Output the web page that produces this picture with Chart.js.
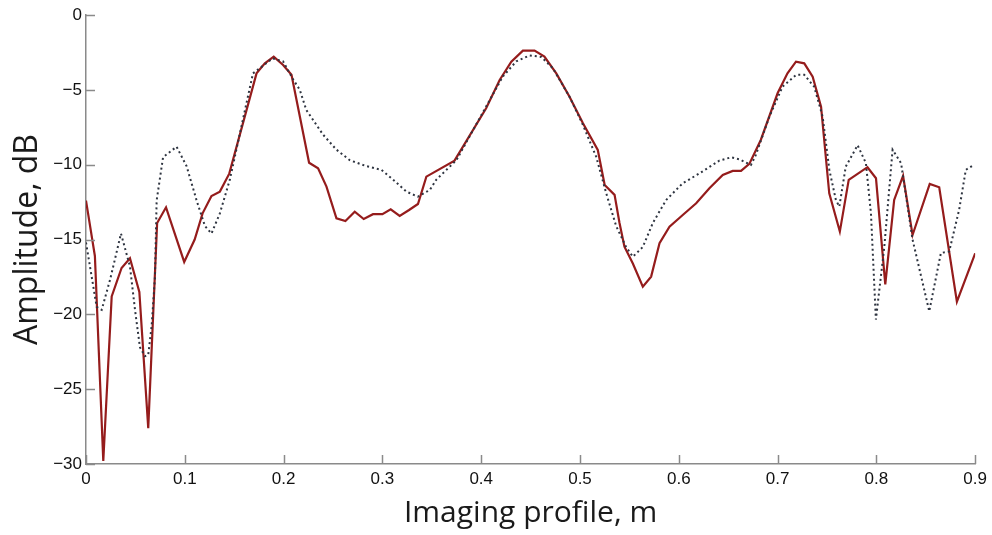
<!DOCTYPE html>
<html>
<head>
<meta charset="utf-8">
<script src="https://cdn.jsdelivr.net/npm/chart.js@4.4.0/dist/chart.umd.min.js"></script>
<style>
  html, body { margin: 0; padding: 0; background: #fff; }
  #wrap { width: 992px; height: 535px; position: relative; }
</style>
</head>
<body>
<div id="wrap"><canvas id="profile-chart"></canvas></div>
<script>
// Amplitude profiles along the imaging line (metres / dB)

const solidX = [0.000, 0.009, 0.0175, 0.026, 0.036, 0.0445, 0.054, 0.063, 0.072, 0.081,
    0.0994, 0.110, 0.118, 0.127, 0.1355, 0.145, 0.1726, 0.181, 0.190, 0.1995,
    0.208, 0.2258, 0.2349, 0.2434, 0.2535, 0.2626, 0.272, 0.2811, 0.2905, 0.300,
    0.3084, 0.3175, 0.327, 0.336, 0.3445, 0.373, 0.405, 0.4187, 0.4305, 0.4422,
    0.454, 0.464, 0.476, 0.4894, 0.503, 0.518, 0.525, 0.535, 0.540, 0.545,
    0.5535, 0.5636, 0.572, 0.5805, 0.5906, 0.604, 0.6176, 0.631, 0.6445, 0.6546,
    0.663, 0.6714, 0.683, 0.700, 0.710, 0.7186, 0.727, 0.7355, 0.744, 0.7523,
    0.763, 0.772, 0.791, 0.7996, 0.809, 0.818, 0.827, 0.8366, 0.854, 0.8636,
    0.8815, 0.900];
const solidDb = [-12.4, -16.1, -29.8, -18.8, -16.9, -16.25, -18.5, -27.6, -13.9, -12.85,
    -16.5, -15.0, -13.25, -12.1, -11.8, -10.6, -3.9, -3.23, -2.78, -3.34,
    -4.0, -9.87, -10.24, -11.47, -13.58, -13.76, -13.14, -13.63, -13.31, -13.31,
    -12.98, -13.43, -13.03, -12.63, -10.8, -9.73, -6.23, -4.34, -3.12, -2.38,
    -2.38, -2.78, -3.9, -5.46, -7.24, -9.02, -11.36, -12.02, -13.9, -15.48,
    -16.6, -18.15, -17.48, -15.25, -14.14, -13.36, -12.58, -11.58, -10.69, -10.42,
    -10.42, -9.95, -8.35, -5.23, -3.9, -3.12, -3.23, -4.12, -6.12, -11.91,
    -14.47, -11.02, -10.17, -10.91, -18.0, -12.36, -10.75, -14.7, -11.29, -11.51,
    -19.15, -15.92];

const dotX = [0.000, 0.0108, 0.0159, 0.0243, 0.029, 0.0354, 0.0445, 0.0496, 0.0546, 0.0597,
    0.063, 0.0664, 0.0698, 0.0715, 0.078, 0.0917, 0.1018, 0.112, 0.1204, 0.127,
    0.1355, 0.1456, 0.169, 0.189, 0.1995, 0.2096, 0.2164, 0.223, 0.240, 0.2535,
    0.267, 0.2838, 0.299, 0.3108, 0.3243, 0.336, 0.348, 0.3546, 0.3749, 0.3917,
    0.4085, 0.422, 0.4355, 0.449, 0.4608, 0.4726, 0.4894, 0.503, 0.5164, 0.5265,
    0.5366, 0.5467, 0.5535, 0.5636, 0.5737, 0.5872, 0.604, 0.621, 0.641, 0.653,
    0.6613, 0.673, 0.678, 0.6917, 0.705, 0.7187, 0.727, 0.737, 0.7456, 0.7524,
    0.759, 0.7625, 0.769, 0.781, 0.7894, 0.7945, 0.7995, 0.808, 0.8164, 0.825,
    0.8366, 0.8535, 0.8653, 0.8737, 0.8838, 0.8905, 0.899];
const dotDb = [-15.2, -19.5, -19.7, -17.7, -16.4, -14.6, -16.8, -19.7, -22.2, -22.8,
    -22.7, -20.8, -17.5, -12.4, -9.5, -8.8, -10.1, -12.4, -14.1, -14.6,
    -13.25, -11.0, -3.9, -2.9, -3.1, -4.3, -5.0, -6.35, -8.0, -9.0,
    -9.7, -10.1, -10.35, -11.0, -11.8, -12.14, -11.69, -11.0, -9.7, -7.7,
    -5.7, -4.1, -3.1, -2.7, -2.8, -3.56, -5.46, -7.35, -9.47, -11.9,
    -14.1, -15.5, -16.15, -15.5, -13.9, -12.36, -11.24, -10.58, -9.73, -9.51,
    -9.64, -10.02, -9.35, -6.79, -4.79, -4.0, -4.0, -4.79, -6.79, -10.35,
    -12.36, -12.8, -10.13, -8.7, -9.9, -13.25, -20.35, -15.5, -9.0, -9.9,
    -15.0, -19.8, -15.9, -15.8, -13.0, -10.35, -10.0];

const xTicks = [0, 0.1, 0.2, 0.3, 0.4, 0.5, 0.6, 0.7, 0.8, 0.9];
const yTicks = [0, -5, -10, -15, -20, -25, -30];

const axisColor = '#8a8a8a';

// small tick marks pointing into the plot
const inwardTicks = {
    id: 'inwardTicks',
    afterDraw(chart) {
        const ctx = chart.ctx, area = chart.chartArea;
        const xs = chart.scales.x, ys = chart.scales.y;
        ctx.save();
        ctx.strokeStyle = axisColor;
        ctx.lineWidth = 1.5;
        ctx.beginPath();
        xTicks.forEach(v => {
            let px = Math.round(xs.getPixelForValue(v)) + 0.5;
            ctx.moveTo(px, area.bottom);
            ctx.lineTo(px, area.bottom - 9);
        });
        yTicks.forEach(v => {
            let py = Math.round(ys.getPixelForValue(v)) + 0.5;
            ctx.moveTo(area.left, py);
            ctx.lineTo(area.left + 9, py);
        });
        ctx.stroke();
        ctx.restore();
    }
};

let ctx = document.getElementById('profile-chart').getContext('2d');

let chart = new Chart(ctx, {
    type: 'line',
    data: {
        datasets: [{
            data: dotX.map((x, i) => ({x: x, y: dotDb[i]})),
            borderColor: '#2e3440',
            borderWidth: 2,
            borderDash: [2, 3],
            pointRadius: 0,
            tension: 0
        }, {
            data: solidX.map((x, i) => ({x: x, y: solidDb[i]})),
            borderColor: '#951c1c',
            borderWidth: 2.2,
            pointRadius: 0,
            tension: 0
        }]
    },
    options: {
        responsive: true,
        maintainAspectRatio: false,
        animation: false,
        layout: { padding: { top: 15, right: 16, left: 0, bottom: 0 } },
        plugins: {
            legend: { display: false },
            tooltip: { enabled: false }
        },
        scales: {
            x: {
                type: 'linear',
                min: 0,
                max: 0.9,
                afterBuildTicks: s => { s.ticks = xTicks.map(v => ({value: v})); },
                afterFit: s => { s.height = 71; },
                grid: { display: false, drawTicks: false },
                border: { display: true, color: axisColor, width: 1.5 },
                ticks: {
                    padding: 5,
                    color: '#111',
                    font: { family: 'Liberation Sans', size: 17 },
                    callback: v => String(v)
                },
                title: {
                    display: true,
                    text: 'Imaging profile, m',
                    color: '#1a1a1a',
                    font: { family: 'Open Sans', size: 30 },
                    padding: { top: 0, bottom: 4 }
                }
            },
            y: {
                min: -30,
                max: 0,
                afterBuildTicks: s => { s.ticks = yTicks.map(v => ({value: v})); },
                afterFit: s => { s.width = 86; },
                grid: { display: false, drawTicks: false },
                border: { display: true, color: axisColor, width: 1.5 },
                ticks: {
                    padding: 4,
                    color: '#111',
                    font: { family: 'Liberation Sans', size: 17 },
                    callback: v => (v < 0 ? '\u2212' + Math.abs(v) : String(v))
                },
                title: {
                    display: true,
                    text: 'Amplitude, dB',
                    color: '#1a1a1a',
                    font: { family: 'Open Sans', size: 32 },
                    padding: { top: 9, bottom: 0 }
                }
            }
        }
    },
    plugins: [inwardTicks]
});
</script>
</body>
</html>
